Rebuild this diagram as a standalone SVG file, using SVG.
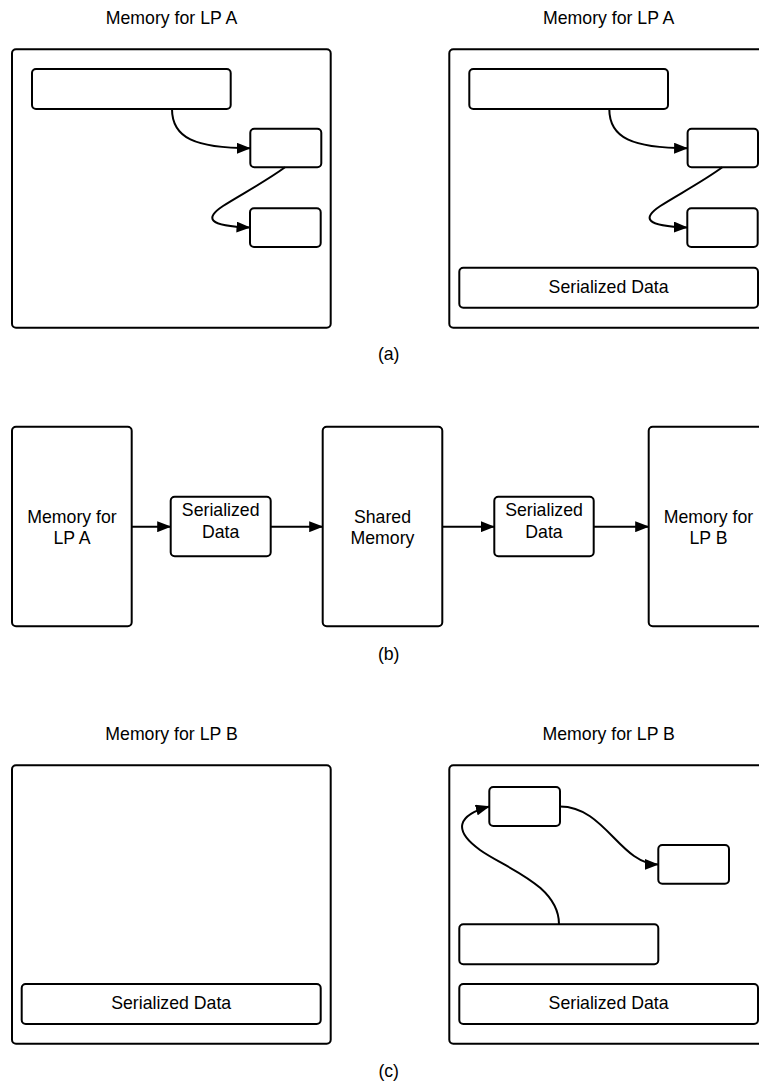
<svg xmlns="http://www.w3.org/2000/svg" width="759" height="1085" viewBox="0 0 759 1085">
<style>
.box{fill:#fff;stroke:#000;stroke-width:2}
.edge{fill:none;stroke:#000;stroke-width:2}
text{font-family:"Liberation Sans",Arial,sans-serif;font-size:17.7px;fill:#000;text-anchor:middle}
</style>
<defs>
<marker id="ah" viewBox="0 0 14 11" refX="13.5" refY="5.5" markerWidth="14" markerHeight="11" markerUnits="userSpaceOnUse" orient="auto">
<path d="M0,0 L14,5.5 L0,11 z" fill="#000"/>
</marker>
</defs>
<rect width="759" height="1085" fill="#fff"/>

<!-- Panel (a) -->
<g id="a-left">
<text x="171.5" y="23.5">Memory for LP A</text>
<rect class="box" x="12" y="49.3" width="318.7" height="278.4" rx="4"/>
</g>
<g id="a-left-wide"><rect class="box" x="32" y="69" width="198.7" height="40" rx="4"/></g>
<g id="a-left-s1"><rect class="box" x="250.3" y="128.7" width="71" height="38.6" rx="4"/></g>
<g id="a-left-s2"><rect class="box" x="250" y="208.3" width="70.7" height="38.7" rx="4"/></g>

<g id="a-right">
<text x="608.7" y="23.5">Memory for LP A</text>
<rect class="box" x="449.3" y="49.3" width="318.7" height="278.4" rx="4"/>
</g>
<g id="a-right-wide"><rect class="box" x="469.3" y="69" width="198.7" height="40" rx="4"/></g>
<g id="a-right-s1"><rect class="box" x="687.6" y="128.7" width="70.4" height="38.6" rx="4"/></g>
<g id="a-right-s2"><rect class="box" x="687.3" y="208.3" width="70.4" height="38.7" rx="4"/></g>
<g id="a-right-ser">
<rect class="box" x="459.3" y="267.7" width="298.7" height="40" rx="4"/>
<text x="608.6" y="292.7">Serialized Data</text>
</g>
<text x="388.7" y="360">(a)</text>

<!-- Panel (b) -->
<g id="b-memA">
<rect class="box" x="12" y="426.7" width="119.7" height="199.6" rx="4"/>
<text x="72" y="522.7">Memory for</text>
<text x="72" y="544.3">LP A</text>
</g>
<g id="b-ser1">
<rect class="box" x="170.7" y="496.7" width="100" height="59.6" rx="4"/>
<text x="220.7" y="516">Serialized</text>
<text x="220.7" y="537.7">Data</text>
</g>
<g id="b-shared">
<rect class="box" x="322.7" y="426.7" width="119.6" height="199.6" rx="4"/>
<text x="382.5" y="522.7">Shared</text>
<text x="382.5" y="544.3">Memory</text>
</g>
<g id="b-ser2">
<rect class="box" x="494.3" y="496.7" width="99.4" height="59.6" rx="4"/>
<text x="544" y="516">Serialized</text>
<text x="544" y="537.7">Data</text>
</g>
<g id="b-memB">
<rect class="box" x="648.7" y="426.7" width="119.7" height="199.6" rx="4"/>
<text x="708.5" y="522.7">Memory for</text>
<text x="708.5" y="544.3">LP B</text>
</g>
<text x="388.7" y="660">(b)</text>

<!-- Panel (c) -->
<g id="c-left">
<text x="171.5" y="739.5">Memory for LP B</text>
<rect class="box" x="12" y="765.3" width="318.7" height="278.4" rx="4"/>
</g>
<g id="c-left-ser">
<rect class="box" x="21.7" y="984" width="299" height="40" rx="4"/>
<text x="171.2" y="1008.7">Serialized Data</text>
</g>
<g id="c-right">
<text x="608.7" y="739.5">Memory for LP B</text>
<rect class="box" x="449.3" y="765.3" width="318.7" height="278.4" rx="4"/>
</g>
<g id="c-right-s1"><rect class="box" x="489.3" y="787" width="70.7" height="39" rx="4"/></g>
<g id="c-right-s2"><rect class="box" x="658.3" y="845" width="70.7" height="38.7" rx="4"/></g>
<g id="c-right-wide"><rect class="box" x="459.3" y="924.3" width="199" height="40" rx="4"/></g>
<g id="c-right-ser">
<rect class="box" x="459.3" y="984" width="298.7" height="40" rx="4"/>
<text x="608.6" y="1008.7">Serialized Data</text>
</g>
<text x="388.7" y="1076.7">(c)</text>

<g id="connectors">
<path class="edge" marker-end="url(#ah)" d="M172,109 C172,138 195,148 250.3,148.3"/>
<path class="edge" marker-end="url(#ah)" d="M285,167.3 C265,182 240,195 223,206 C205,218 207,226 250,227.5"/>
<path class="edge" marker-end="url(#ah)" d="M609.3,109 C609.3,138 632.3,148 687.6,148.3"/>
<path class="edge" marker-end="url(#ah)" d="M722.3,167.3 C702.3,182 677.3,195 660.3,206 C642.3,218 644.3,226 687.3,227.5"/>
<path class="edge" marker-end="url(#ah)" d="M131.7,526.7 L170.7,526.7"/>
<path class="edge" marker-end="url(#ah)" d="M270.7,526.7 L322.7,526.7"/>
<path class="edge" marker-end="url(#ah)" d="M442.3,526.7 L494.3,526.7"/>
<path class="edge" marker-end="url(#ah)" d="M593.7,526.7 L648.7,526.7"/>
<path class="edge" marker-end="url(#ah)" d="M559,924.3 C559,885 505,868 480,850 C452,830 458,815 489.3,806.5"/>
<path class="edge" marker-end="url(#ah)" d="M560,806.5 C605,806.5 620,864.3 658.3,864.5"/>
</g>
</svg>
